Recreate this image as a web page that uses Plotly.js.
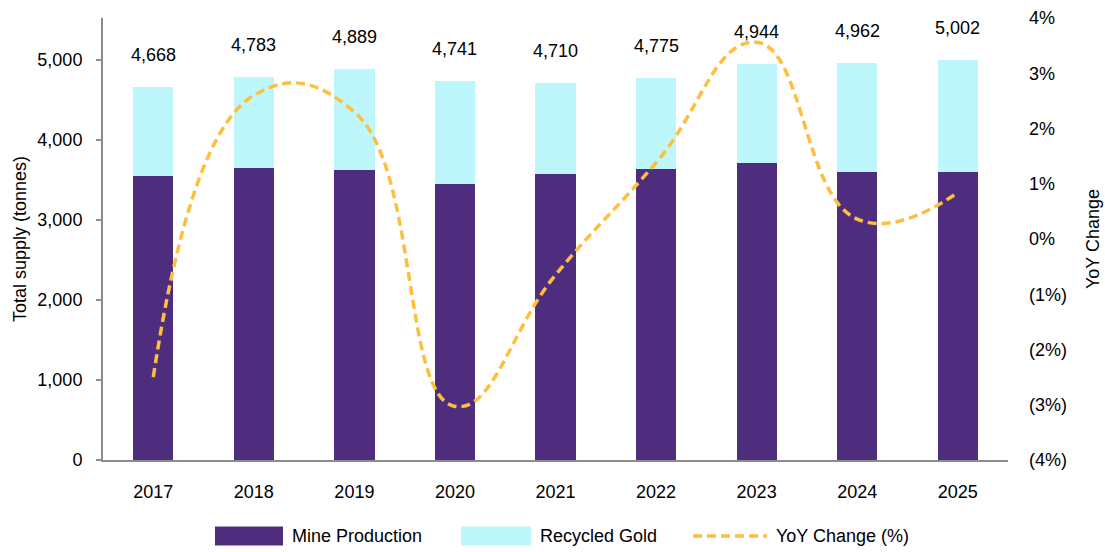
<!DOCTYPE html>
<html>
<head>
<meta charset="utf-8">
<script src="https://cdn.plot.ly/plotly-3.0.1.min.js"></script>
<style>html,body{margin:0;padding:0;background:#fff;}#chart{width:1105px;height:552px;}</style>
</head>
<body>
<div id="chart"></div>
<script>
const years = ["2017","2018","2019","2020","2021","2022","2023","2024","2025"];
const mineProduction = [3555, 3656, 3620, 3448, 3570, 3640, 3708, 3604, 3604];
const totalSupply = [4668, 4783, 4889, 4741, 4710, 4775, 4944, 4962, 5002];
const recycledGold = totalSupply.map((t, i) => t - mineProduction[i]);
const yoyChange = [-2.5, 2.6, 2.3, -3.03, -0.65, 1.38, 3.56, 0.36, 0.84];
const yTickVals = [0, 1000, 2000, 3000, 4000, 5000];
const y2TickVals = [-4, -3, -2, -1, 0, 1, 2, 3, 4];
const y2TickText = ["(4%)", "(3%)", "(2%)", "(1%)", "0%", "1%", "2%", "3%", "4%"];

const COL_MINE = "#4E2D7E";
const COL_REC = "#BDF7FB";
const COL_YOY = "#FFBE3D";
const FONT = "Liberation Sans, Arial, sans-serif";

const traces = [
  {type: "bar", x: years, y: mineProduction, name: "Mine Production",
   marker: {color: COL_MINE, line: {width: 0}}, hoverinfo: "skip"},
  {type: "bar", x: years, y: recycledGold, name: "Recycled Gold",
   marker: {color: COL_REC, line: {width: 0}}, hoverinfo: "skip"},
  {type: "scatter", mode: "lines", x: years, y: yoyChange, yaxis: "y2", name: "YoY Change (%)",
   line: {color: COL_YOY, width: 3.5, dash: "9px,5px", shape: "spline", smoothing: 1.3}, hoverinfo: "skip"}
];

const annotations = years.map((yr, i) => ({
  x: i, y: totalSupply[i], xref: "x", yref: "y",
  text: totalSupply[i].toLocaleString("en-US"),
  showarrow: false, yshift: 32, font: {family: FONT, size: 18, color: "#000"}
}));

// custom legend
const PL = 103, PR = 1008, PT = 18, PB = 460;
const legendItems = [
  {label: "Mine Production", kind: "bar", color: COL_MINE, x0: 215, x1: 283},
  {label: "Recycled Gold", kind: "bar", color: COL_REC, x0: 461, x1: 531},
  {label: "YoY Change (%)", kind: "line", color: COL_YOY, x0: 693, x1: 767}
];
const shapes = [];
const W = 1105, H = 552, legY = 536;
const px = v => (v - PL) / (PR - PL);
const py = v => (PB - v) / (PB - PT);
legendItems.forEach(it => {
  if (it.kind === "bar") {
    shapes.push({type: "rect", xref: "paper", yref: "paper", layer: "above",
      x0: px(it.x0), x1: px(it.x1), y0: py(legY + 9.5), y1: py(legY - 9.5),
      fillcolor: it.color, line: {width: 0}});
  } else {
    shapes.push({type: "line", xref: "paper", yref: "paper", layer: "above",
      x0: px(it.x0), x1: px(it.x1), y0: py(legY), y1: py(legY),
      line: {color: it.color, width: 3.5, dash: "9px,5px"}});
  }
  annotations.push({xref: "paper", yref: "paper", showarrow: false,
    x: px(it.x1 + 7), y: py(legY),
    xanchor: "left", yanchor: "middle", text: it.label,
    font: {family: FONT, size: 18, color: "#000"}});
});

const layout = {
  width: W, height: H,
  margin: {l: PL, r: W - PR, t: PT, b: H - PB, pad: 0},
  paper_bgcolor: "#fff", plot_bgcolor: "#fff",
  barmode: "stack", bargap: 0.6,
  showlegend: false,
  font: {family: FONT, size: 18, color: "#000"},
  xaxis: {type: "category", range: [-0.5, 8.5], showgrid: false, zeroline: false,
    showline: true, linecolor: "#8C8C8C", linewidth: 2,
    ticks: "", ticklabelstandoff: 14, tickfont: {family: FONT, size: 18}},
  yaxis: {range: [0, 5525], tickvals: yTickVals, tickformat: ",d",
    showgrid: false, zeroline: false, showline: true, linecolor: "#8C8C8C", linewidth: 2,
    ticks: "outside", ticklen: 5, tickcolor: "#8C8C8C", tickwidth: 1.5,
    ticklabelstandoff: 10, tickfont: {family: FONT, size: 18},
    title: {text: "Total supply (tonnes)", standoff: 6, font: {family: FONT, size: 18}}},
  yaxis2: {overlaying: "y", side: "right", range: [-4, 4],
    tickvals: y2TickVals, ticktext: y2TickText,
    showgrid: false, zeroline: false, showline: false, ticks: "",
    ticklabelstandoff: 20, tickfont: {family: FONT, size: 18},
    title: {text: "YoY Change", standoff: 20, font: {family: FONT, size: 18}}},
  annotations: annotations,
  shapes: shapes
};

Plotly.newPlot("chart", traces, layout, {displayModeBar: false, staticPlot: true});
</script>
</body>
</html>
